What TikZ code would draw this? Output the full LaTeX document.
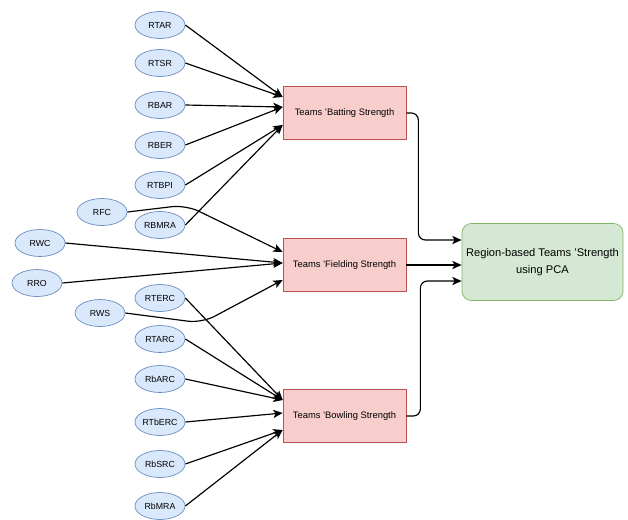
\documentclass[tikz,border=0pt]{standalone}
\usepackage{fontspec}
\setmainfont{Liberation Sans}
\usetikzlibrary{arrows.meta,calc,shapes.geometric}
\definecolor{metricfill}{HTML}{DAE8FC}
\definecolor{metricline}{HTML}{6C8EBF}
\definecolor{strengthfill}{HTML}{F8CECC}
\definecolor{strengthline}{HTML}{B85450}
\definecolor{resultfill}{HTML}{D5E8D4}
\definecolor{resultline}{HTML}{82B366}

\begin{document}
\begin{tikzpicture}[x=0.03cm,y=-0.03cm,
  metricnode/.style={ellipse,draw=metricline,fill=metricfill,line width=0.6pt,
    minimum width=1.5cm,minimum height=0.81cm,inner sep=0pt,
    font=\fontsize{7.5}{8.5}\selectfont},
  strengthbox/.style={draw=strengthline,fill=strengthfill,line width=0.6pt,
    minimum width=3.69cm,minimum height=1.59cm,inner sep=2pt,
    font=\fontsize{8}{9.5}\selectfont},
  resultbox/.style={draw=resultline,fill=resultfill,rounded corners=8pt,
    line width=0.6pt,minimum width=4.83cm,minimum height=2.31cm,
    align=center,font=\fontsize{9.5}{15}\selectfont},
  metricflow/.style={-{Stealth[length=8pt,width=7pt,inset=2pt]},line width=1pt}
]
  \useasboundingbox (0,0) rectangle (628,519);

  \node[strengthbox] (batting) at (344.5,113) {Teams 'Batting Strength};
  \node[strengthbox] (fielding) at (344.5,265) {Teams 'Fielding Strength};
  \node[strengthbox] (bowling) at (344.5,416) {Teams 'Bowling Strength};
  \node[resultbox] (result) at (542.5,262)
    {Region-based Teams 'Strength\\using PCA};

  % batting inputs
  \node[metricnode] (rtar) at (160,25) {RTAR};
  \node[metricnode] (rtsr) at (160,63) {RTSR};
  \node[metricnode] (rbar) at (160,105) {RBAR};
  \node[metricnode] (rber) at (160,145) {RBER};
  \node[metricnode] (rtbpi) at (160,185) {RTBPI};
  \node[metricnode] (rbmra) at (160,225) {RBMRA};
  \draw[metricflow] (rtar.east) -- ($(batting.west)+(0,-16)$);
  \draw[metricflow] (rtsr.east) -- ($(batting.west)+(0,-16)$);
  \draw[metricflow] (rbar.east) -- ($(batting.west)+(0,-6)$);
  \draw[metricflow] (rber.east) -- ($(batting.west)+(0,-6)$);
  \draw[metricflow] (rtbpi.east) -- ($(batting.west)+(0,12)$);
  \draw[metricflow] (rbmra.east) -- ($(batting.west)+(0,12)$);

  % fielding inputs
  \node[metricnode] (rfc) at (102,212) {RFC};
  \node[metricnode] (rwc) at (40,243) {RWC};
  \node[metricnode] (rro) at (37,283) {RRO};
  \node[metricnode] (rws) at (100,313) {RWS};
  \coordinate (rfcbend) at (186,205);
  \coordinate (rwsbend) at (202,323);
  \draw[metricflow,rounded corners=12pt] (rfc.east) -- (rfcbend)
    -- ($(fielding.west)+(0,-13)$);
  \draw[metricflow] (rwc.east) -- ($(fielding.west)+(0,-2)$);
  \draw[metricflow] (rro.east) -- ($(fielding.west)+(0,-2)$);
  \draw[metricflow,rounded corners=12pt] (rws.east) -- (rwsbend)
    -- ($(fielding.west)+(0,15)$);

  % bowling inputs
  \node[metricnode] (rterc) at (160,298) {RTERC};
  \node[metricnode] (rtarc) at (160,339) {RTARC};
  \node[metricnode] (rbarc) at (160,379) {RbARC};
  \node[metricnode] (rtberc) at (160,422) {RTbERC};
  \node[metricnode] (rbsrc) at (160,464) {RbSRC};
  \node[metricnode] (rbmrab) at (160,506) {RbMRA};
  \draw[metricflow] (rterc.east) -- ($(bowling.west)+(0,-16)$);
  \draw[metricflow] (rtarc.east) -- ($(bowling.west)+(0,-16)$);
  \draw[metricflow] (rbarc.east) -- ($(bowling.west)+(0,-16)$);
  \draw[metricflow] (rtberc.east) -- ($(bowling.west)+(0,-3)$);
  \draw[metricflow] (rbsrc.east) -- ($(bowling.west)+(0,14)$);
  \draw[metricflow] (rbmrab.east) -- ($(bowling.west)+(0,14)$);

  % strengths into the result
  \draw[metricflow,rounded corners=6pt] (batting.east) -- ++(12,0)
    |- ($(result.west)+(0,-22)$);
  \draw[metricflow] (fielding.east) -- (fielding.east -| result.west);
  \draw[metricflow,rounded corners=6pt] (bowling.east) -- ++(14,0)
    |- ($(result.west)+(0,19)$);
\end{tikzpicture}
\end{document}
